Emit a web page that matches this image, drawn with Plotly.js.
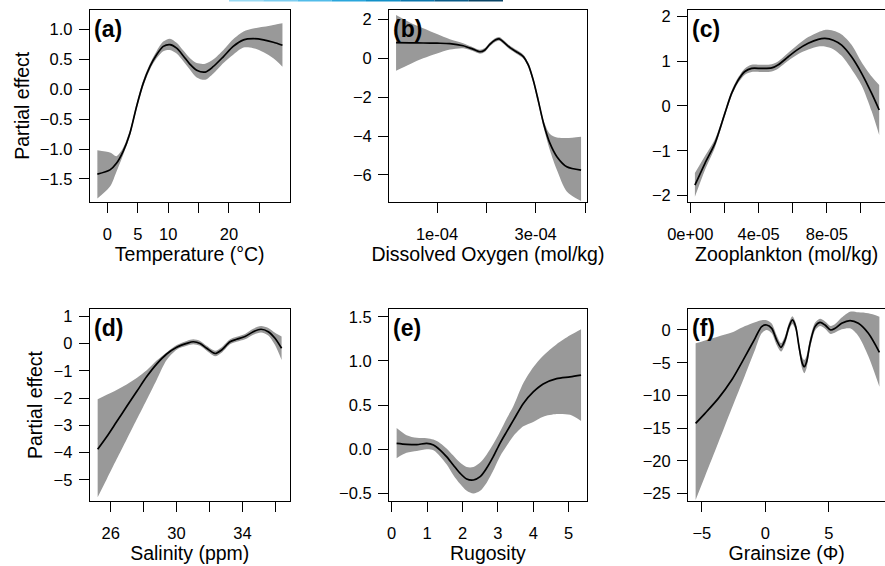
<!DOCTYPE html>
<html><head><meta charset="utf-8">
<script src="https://cdn.plot.ly/plotly-3.0.1.min.js"></script>
<style>html,body{margin:0;padding:0;background:#fff;} #chart{width:885px;height:566px;}</style>
</head><body><div id="chart"></div>
<script>
// (a) Temperature
const tempX  = [-1.64, 0.44, 1.5, 2.6, 3.7, 4.8, 5.9, 7.0, 8.1, 9.2, 10.3, 11.4, 12.5, 13.6, 14.7, 16.1, 17.4, 19.1, 20.7, 22.4, 24.0, 25.7, 27.3, 28.8];
const tempFit= [-1.42, -1.35, -1.24, -1.04, -0.74, -0.29, 0.10, 0.38, 0.58, 0.72, 0.75, 0.69, 0.56, 0.42, 0.32, 0.29, 0.38, 0.55, 0.72, 0.83, 0.85, 0.83, 0.79, 0.74];
const tempHi = [-1.02, -1.06, -1.12, -0.98, -0.69, -0.24, 0.15, 0.43, 0.64, 0.80, 0.85, 0.78, 0.65, 0.52, 0.44, 0.43, 0.50, 0.66, 0.84, 0.97, 1.02, 1.05, 1.08, 1.11];
const tempLo = [-1.83, -1.63, -1.38, -1.10, -0.79, -0.34, 0.05, 0.33, 0.52, 0.64, 0.66, 0.60, 0.47, 0.33, 0.20, 0.16, 0.26, 0.44, 0.58, 0.70, 0.69, 0.62, 0.52, 0.38];
// (b) Dissolved oxygen
const oxyX  = [1.7e-5, 4.5e-5, 7.2e-5, 1.0e-4, 1.26e-4, 1.53e-4, 1.74e-4, 1.87e-4, 1.97e-4, 2.07e-4, 2.18e-4, 2.26e-4, 2.34e-4, 2.48e-4, 2.61e-4, 2.75e-4, 2.85e-4, 2.95e-4, 3.05e-4, 3.16e-4, 3.29e-4, 3.43e-4, 3.63e-4, 3.92e-4];
const oxyFit= [0.81, 0.80, 0.79, 0.78, 0.76, 0.65, 0.46, 0.34, 0.43, 0.72, 0.94, 1.00, 0.86, 0.55, 0.34, 0.09, -0.34, -1.12, -2.15, -3.35, -4.38, -5.06, -5.58, -5.75];
const oxyHi = [2.23, 1.85, 1.55, 1.25, 0.98, 0.78, 0.56, 0.44, 0.53, 0.82, 1.04, 1.10, 0.96, 0.65, 0.44, 0.19, -0.22, -0.98, -1.98, -3.20, -3.90, -4.08, -4.10, -4.03];
const oxyLo = [-0.64, -0.30, 0.00, 0.25, 0.45, 0.52, 0.36, 0.24, 0.33, 0.62, 0.84, 0.90, 0.76, 0.45, 0.24, -0.01, -0.46, -1.26, -2.32, -3.55, -4.75, -5.75, -6.85, -7.35];
// (c) Zooplankton
const zooX  = [2.7e-6, 8.6e-6, 1.45e-5, 2.03e-5, 2.42e-5, 2.81e-5, 3.2e-5, 3.59e-5, 4.18e-5, 4.77e-5, 5.16e-5, 5.74e-5, 6.33e-5, 6.91e-5, 7.5e-5, 7.89e-5, 8.38e-5, 8.87e-5, 9.45e-5, 1.004e-4, 1.063e-4, 1.107e-4];
const zooFit= [-1.77, -1.28, -0.83, -0.16, 0.28, 0.58, 0.77, 0.84, 0.84, 0.85, 0.92, 1.10, 1.27, 1.40, 1.49, 1.51, 1.47, 1.36, 1.10, 0.73, 0.28, -0.09];
const zooHi = [-1.50, -1.12, -0.74, -0.10, 0.34, 0.64, 0.84, 0.92, 0.92, 0.93, 1.00, 1.19, 1.38, 1.54, 1.65, 1.70, 1.68, 1.60, 1.37, 0.98, 0.66, 0.47];
const zooLo = [-2.03, -1.43, -0.92, -0.22, 0.22, 0.52, 0.70, 0.76, 0.76, 0.77, 0.84, 1.01, 1.16, 1.26, 1.33, 1.33, 1.27, 1.12, 0.82, 0.46, -0.12, -0.65];
// (d) Salinity
const salX  = [25.21, 25.76, 26.36, 26.97, 27.58, 28.19, 28.79, 29.40, 30.01, 30.62, 31.02, 31.43, 31.83, 32.34, 32.74, 33.25, 33.65, 34.16, 34.66, 35.13, 35.57, 35.98, 36.38];
const salFit= [-3.88, -3.42, -2.87, -2.31, -1.76, -1.21, -0.75, -0.38, -0.13, 0.01, 0.07, 0.01, -0.17, -0.36, -0.23, 0.07, 0.16, 0.26, 0.44, 0.53, 0.44, 0.20, -0.17];
const salHi = [-2.04, -1.88, -1.70, -1.50, -1.26, -0.98, -0.62, -0.32, -0.05, 0.10, 0.16, 0.10, -0.08, -0.26, -0.13, 0.16, 0.25, 0.36, 0.55, 0.65, 0.58, 0.40, 0.26];
const salLo = [-5.64, -4.98, -4.25, -3.52, -2.79, -2.06, -1.33, -0.60, -0.22, -0.08, -0.02, -0.08, -0.26, -0.46, -0.33, -0.02, 0.07, 0.16, 0.33, 0.41, 0.30, -0.05, -0.60];
// (e) Rugosity
const rugX  = [0.14, 0.42, 0.71, 0.99, 1.18, 1.37, 1.55, 1.74, 1.93, 2.12, 2.31, 2.50, 2.68, 2.87, 3.06, 3.25, 3.44, 3.72, 4.00, 4.28, 4.66, 5.04, 5.35];
const rugFit= [0.068, 0.057, 0.053, 0.068, 0.05, -0.008, -0.083, -0.177, -0.27, -0.336, -0.347, -0.31, -0.215, -0.083, 0.068, 0.20, 0.33, 0.52, 0.65, 0.74, 0.80, 0.82, 0.84];
const rugHi = [0.24, 0.16, 0.13, 0.125, 0.11, 0.07, 0.01, -0.07, -0.15, -0.20, -0.20, -0.15, -0.06, 0.06, 0.20, 0.35, 0.49, 0.75, 0.93, 1.06, 1.19, 1.29, 1.36];
const rugLo = [-0.10, -0.04, -0.02, 0.00, -0.01, -0.08, -0.17, -0.29, -0.39, -0.47, -0.50, -0.47, -0.38, -0.24, -0.08, 0.04, 0.15, 0.26, 0.31, 0.37, 0.40, 0.39, 0.32];
// (f) Grainsize
const grX  = [-5.49, -4.75, -3.70, -2.65, -1.6, -0.81, -0.29, 0.10, 0.5, 0.89, 1.23, 1.55, 1.86, 2.13, 2.39, 2.65, 2.91, 3.07, 3.25, 3.52, 3.91, 4.30, 4.7, 5.14, 5.49, 6.01, 6.67, 7.32, 8.11, 8.98];
const grFit= [-14.26, -12.73, -10.44, -7.64, -4.07, -1.27, 0.51, 0.76, 0.25, -1.53, -2.65, -1.53, 0.51, 1.53, 0.51, -2.55, -5.09, -5.6, -4.84, -2.04, 0.51, 1.17, 0.76, 0.0, 0.25, 1.02, 1.43, 1.02, -0.51, -3.41];
const grHi = [-2.04, -1.6, -1.0, -0.4, 0.6, 1.2, 1.5, 1.5, 1.0, -0.8, -2.0, -0.9, 1.1, 2.1, 1.1, -1.9, -4.2, -4.6, -3.9, -1.3, 1.1, 1.7, 1.3, 0.6, 0.9, 1.9, 2.8, 2.7, 2.55, 2.04];
const grLo = [-25.97, -22.35, -17.2, -12.0, -6.9, -3.0, -0.5, 0.0, -0.5, -2.3, -3.3, -2.2, -0.1, 0.9, -0.1, -3.2, -6.0, -6.6, -5.8, -2.8, -0.1, 0.6, 0.2, -0.6, -0.4, 0.1, 0.25, -0.9, -4.0, -8.66];

// tick labels
const tempTicks = [0, 5, 10, 15, 20, 25];      const tempTickText = ['0', '5', '10', '', '20', ''];
const oxyTicks  = [1e-4, 2e-4, 3e-4, 4e-4];    const oxyTickText  = ['1e-04', '', '3e-04', ''];
const zooTicks  = [0, 2e-5, 4e-5, 6e-5, 8e-5, 1e-4]; const zooTickText = ['0e+00', '', '4e-05', '', '8e-05', ''];
const salTicks  = [26, 28, 30, 32, 34, 36];    const salTickText  = ['26', '', '30', '', '34', ''];
const rugTicks  = [0, 1, 2, 3, 4, 5];          const rugTickText  = ['0', '1', '2', '3', '4', '5'];
const grTicks   = [-5, 0, 5];                  const grTickText   = ['\u22125', '0', '5'];
const tempYTicks = [-1.5, -1.0, -0.5, 0, 0.5, 1.0]; const tempYText = ['\u22121.5', '\u22121.0', '\u22120.5', '0.0', '0.5', '1.0'];
const oxyYTicks  = [-6, -4, -2, 0, 2];     const oxyYText = ['\u22126', '\u22124', '\u22122', '0', '2'];
const zooYTicks  = [-2, -1, 0, 1, 2];      const zooYText = ['\u22122', '\u22121', '0', '1', '2'];
const salYTicks  = [-5, -4, -3, -2, -1, 0, 1]; const salYText = ['\u22125', '\u22124', '\u22123', '\u22122', '\u22121', '0', '1'];
const rugYTicks  = [-0.5, 0, 0.5, 1.0, 1.5]; const rugYText = ['\u22120.5', '0.0', '0.5', '1.0', '1.5'];
const grYTicks   = [-25, -20, -15, -10, -5, 0]; const grYText = ['\u221225', '\u221220', '\u221215', '\u221210', '\u22125', '0'];

const xTitles = ['Temperature (°C)', 'Dissolved Oxygen (mol/kg)', 'Zooplankton (mol/kg)', 'Salinity (ppm)', 'Rugosity', 'Grainsize (\u03A6)'];
const panelLabels = ['(a)', '(b)', '(c)', '(d)', '(e)', '(f)'];
const yTitle = 'Partial effect';

const W = 885, H = 566;
const FONT = 'Liberation Sans, Arial, sans-serif';
const TICK = 16.5, TITLE = 19.5;
const panels = [
  {x: tempX, fit: tempFit, hi: tempHi, lo: tempLo, xt: tempTicks, xtt: tempTickText, yt: tempYTicks, ytt: tempYText},
  {x: oxyX, fit: oxyFit, hi: oxyHi, lo: oxyLo, xt: oxyTicks, xtt: oxyTickText, yt: oxyYTicks, ytt: oxyYText},
  {x: zooX, fit: zooFit, hi: zooHi, lo: zooLo, xt: zooTicks, xtt: zooTickText, yt: zooYTicks, ytt: zooYText},
  {x: salX, fit: salFit, hi: salHi, lo: salLo, xt: salTicks, xtt: salTickText, yt: salYTicks, ytt: salYText},
  {x: rugX, fit: rugFit, hi: rugHi, lo: rugLo, xt: rugTicks, xtt: rugTickText, yt: rugYTicks, ytt: rugYText},
  {x: grX, fit: grFit, hi: grHi, lo: grLo, xt: grTicks, xtt: grTickText, yt: grYTicks, ytt: grYText}
];
// layout geometry (pixels)
const colPx = [[90, 289.5], [389.3, 586.5], [688.3, 885]];
const rowPx = [[10, 201.7], [309.3, 500.7]];
const xRanges = [[-2.85, 29.96], [3.3e-6, 4.03e-4], [-1.17e-6, 1.141e-4], [24.745, 36.86], [-0.067, 5.504], [-6.066, 9.42]];
const yRanges = [[-1.883, 1.33], [-7.38, 2.489], [-2.139, 2.145], [-5.769, 1.263], [-0.5815, 1.585], [-26.07, 3.16]];

const data = [];
const layout = {
  width: W, height: H, margin: {l: 0, r: 0, t: 0, b: 0, autoexpand: false},
  paper_bgcolor: '#fff', plot_bgcolor: '#fff', showlegend: false,
  font: {family: FONT, color: '#000', size: TICK},
  annotations: [], shapes: []
};
panels.forEach((p, i) => {
  const n = i + 1;
  const xa = 'x' + (n === 1 ? '' : n), ya = 'y' + (n === 1 ? '' : n);
  const col = i % 3, row = Math.floor(i / 3);
  data.push({x: p.x, y: p.lo, xaxis: xa, yaxis: ya, type: 'scatter', mode: 'lines',
    line: {width: 0, shape: 'spline', smoothing: 0.8, color: '#999999'}, hoverinfo: 'skip'});
  data.push({x: p.x, y: p.hi, xaxis: xa, yaxis: ya, type: 'scatter', mode: 'lines', fill: 'tonexty',
    fillcolor: '#999999', line: {width: 0, shape: 'spline', smoothing: 0.8, color: '#999999'}, hoverinfo: 'skip'});
  data.push({x: p.x, y: p.fit, xaxis: xa, yaxis: ya, type: 'scatter', mode: 'lines',
    line: {width: 1.7, shape: 'spline', smoothing: 0.8, color: '#000'}, hoverinfo: 'skip'});
  const xk = 'xaxis' + (n === 1 ? '' : n), yk = 'yaxis' + (n === 1 ? '' : n);
  layout[xk] = {
    domain: [colPx[col][0] / W, colPx[col][1] / W], anchor: ya, range: xRanges[i],
    tickmode: 'array', tickvals: p.xt, ticktext: p.xtt, ticks: 'outside', ticklen: 10, tickwidth: 1, tickcolor: '#000',
    showline: true, linecolor: '#000', linewidth: 1.3, mirror: true, showgrid: false, zeroline: false,
    tickfont: {size: TICK, family: FONT}, ticklabelstandoff: 7,
    title: {text: xTitles[i], font: {size: TITLE, family: FONT}, standoff: 4}
  };
  layout[yk] = {
    domain: [1 - rowPx[row][1] / H, 1 - rowPx[row][0] / H], anchor: xa, range: yRanges[i],
    tickmode: 'array', tickvals: p.yt, ticktext: p.ytt, ticks: 'outside', ticklen: 10, tickwidth: 1, tickcolor: '#000',
    showline: true, linecolor: '#000', linewidth: 1.3, mirror: col !== 2, showgrid: false, zeroline: false,
    tickfont: {size: TICK, family: FONT}, ticklabelstandoff: 3
  };
  if (col === 0) {
    layout[yk].title = {text: yTitle, font: {size: TITLE, family: FONT}, standoff: 5};
  }
  layout.annotations.push({xref: 'paper', yref: 'paper', x: (colPx[col][0] + 2) / W, y: 1 - (rowPx[row][0] + 4) / H,
    xanchor: 'left', yanchor: 'top', showarrow: false, text: '<b>' + panelLabels[i] + '</b>',
    font: {size: 23, family: FONT, color: '#000'}});
});
// cyan link underline remnant at the top edge
const stripeCols = ['#9adaf3', '#7ccdf0', '#52bce9', '#2aa6dc', '#1290c8', '#0c77ad', '#0b5d8a', '#0b4668'];
const stripeX0 = 229, stripeX1 = 503;
stripeCols.forEach((c, k) => {
  const a = stripeX0 + (stripeX1 - stripeX0) * k / stripeCols.length;
  const b = stripeX0 + (stripeX1 - stripeX0) * (k + 1) / stripeCols.length;
  layout.shapes.push({type: 'rect', xref: 'paper', yref: 'paper', x0: a / W, x1: b / W, y0: 1 - 1.5 / H, y1: 1,
    line: {width: 0}, fillcolor: c, layer: 'above'});
});
Plotly.newPlot('chart', data, layout, {staticPlot: true, displayModeBar: false});
</script></body></html>
